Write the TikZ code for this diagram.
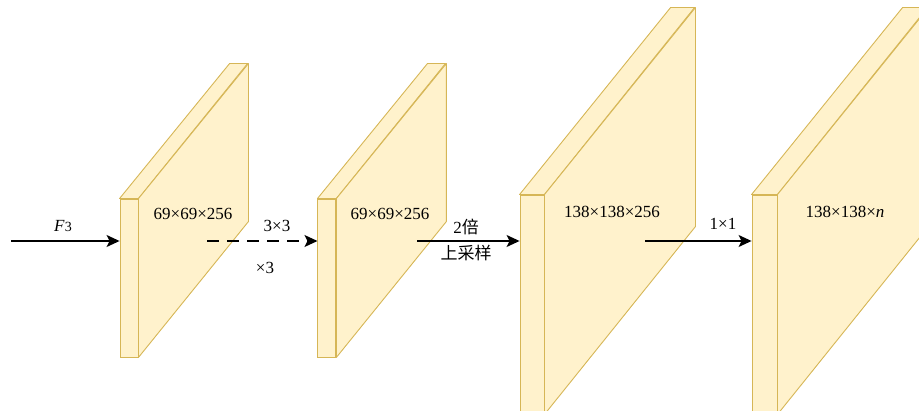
\documentclass[tikz,border=0pt]{standalone}
\usepackage{fontspec}
\setmainfont{Liberation Serif}
\newfontfamily\cjk{Noto Sans CJK SC}
\usepackage{tikz}
\usetikzlibrary{arrows.meta,calc,positioning}
\definecolor{fmfill}{HTML}{FFF2CC}
\definecolor{fmdraw}{HTML}{D6B656}
\tikzset{
  fm front/.style={
    rectangle,
    draw=fmdraw,
    fill=fmfill,
    line width=0.9pt,
    inner sep=0pt,
  },
  fm face/.style={draw=fmdraw, fill=fmfill, line width=0.9pt, line join=round},
  fm label/.style={font=\fontsize{17}{20}\selectfont, inner sep=1pt},
  fm arrow/.style={-{Stealth[length=13pt,width=12pt,inset=3pt]}, line width=1.3pt},
  fm dashed/.style={fm arrow, dash pattern=on 12pt off 8pt},
}
\begin{document}
\begin{tikzpicture}[x=1pt,y=1pt]
  \clip (0,0) rectangle (919,410);

  % front faces of the feature maps
  \node[fm front,minimum width=18pt,minimum height=158pt] (f1) at (129,132) {};
  \node[fm front,minimum width=18pt,minimum height=158pt,right=179pt of f1] (f2) {};
  \node[fm front,minimum width=24pt,minimum height=219pt] (f3) at (532,105.5) {};
  \node[fm front,minimum width=25pt,minimum height=219pt] (f4) at (764.5,105.5) {};

  % top and side faces
  \foreach \f/\dx/\dy/\w/\h in {f1/110/135/18/158, f2/110/135/18/158,
                                f3/151/187/24/219, f4/151/187/25/219} {
    \draw[fm face] (\f.north west) -- ++(\dx,\dy) -- ++(\w,0) -- (\f.north east) -- cycle;
    \draw[fm face] (\f.north east) -- ++(\dx,\dy) -- ++(0,-\h) -- (\f.south east) -- cycle;
  }

  % sizes
  \node[fm label] (s1) at (193,196) {69×69×256};
  \node[fm label] (s2) at (390,196) {69×69×256};
  \node[fm label] (s3) at (612,198) {138×138×256};
  \node[fm label] (s4) at (845,198) {138×138×\textit{n}};

  % connectors
  \coordinate (in) at (11,169);
  \coordinate (c1) at (207,169);
  \coordinate (c2) at (417,169);
  \coordinate (c3) at (645,169);
  \draw[fm arrow] (in) -- (f1.west |- in);
  \draw[fm dashed] (c1) -- (f2.west |- c1);
  \draw[fm arrow] (c2) -- (f3.west |- c2);
  \draw[fm arrow] (c3) -- (f4.west |- c3);

  \node[fm label] (l1) at (63,184) {\textit{F}{\fontsize{14}{16}\selectfont 3}};
  \node[fm label] (l2) at (277,184) {3×3};
  \node[fm label] (l3) at (265,142) {×3};
  \node[fm label] (l4) at (466,183) {2{\cjk 倍}};
  \node[fm label,font=\fontsize{17}{20}\selectfont\cjk] (l5) at (466,157) {上采样};
  \node[fm label] (l6) at (723,186) {1×1};
\end{tikzpicture}
\end{document}
